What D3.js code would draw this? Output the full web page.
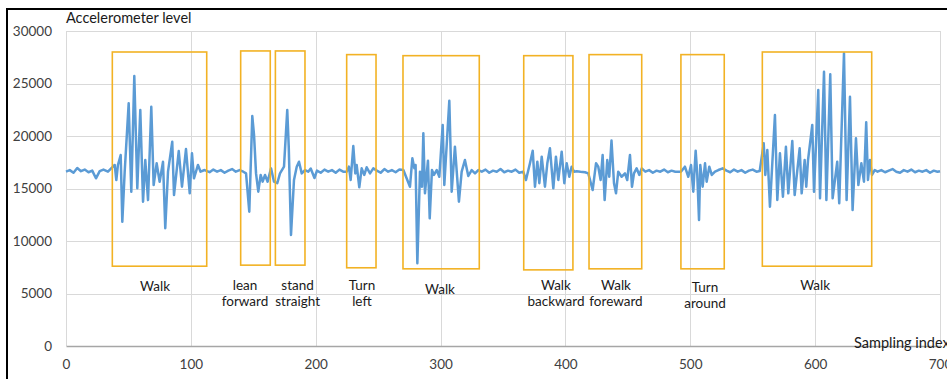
<!DOCTYPE html>
<html>
<head>
<meta charset="utf-8">
<script src="https://cdn.jsdelivr.net/npm/d3@7"></script>
<style>
  html, body { margin: 0; padding: 0; background: #fff; overflow: hidden; }
  svg { display: block; }
  text { font-family: Lato, "Open Sans", sans-serif; }
</style>
</head>
<body>
<svg id="chart" width="947" height="379"></svg>
<script>
// sample index / accelerometer level (peaks and troughs)
const sampleIndex = [
  0, 3, 6, 9, 12, 15, 18, 21, 24, 27, 30, 33.6,
  39, 40.3, 41.6, 43.8, 45.1, 47, 50.2, 52.3, 54.7, 57.1, 59.5, 61.7, 63.5, 65.7, 68.3, 70.2,
  72.6, 75, 77.7, 79.5, 81.7, 85.1, 86.5, 90.3, 92.9, 96.1, 99.1, 100.9, 102.5, 105.7, 107.8, 111,
  115, 118, 121, 124, 127, 130, 133, 136, 139, 142,
  144.2, 146.8, 149.2, 150.6, 152.2, 154, 155.9, 157.5, 159.4, 161.5, 164.2, 166.6, 169.2, 171.4,
  174.6, 177.2, 178.4, 180.2, 182.6, 184.8, 186.6, 188.8, 191.4,
  194, 196, 199, 201, 204, 207, 210, 213, 216, 219, 222,
  224.8, 226.6, 228, 230.1, 231.7, 232.8, 234.9, 236.8, 238.9, 240.8, 243.5, 246.1,
  249, 252, 255, 258, 261, 264, 267,
  270.2, 275.5, 277.4, 279, 280, 281.4, 283.5, 285.1, 286.2, 287.5, 289.9, 291.3, 293.1, 294.7,
  296.9, 299, 301.7, 303, 307, 308.9, 311.5, 314.7, 316.9, 319.5, 322.2, 324.9, 327.6, 330.2,
  333, 336, 339, 342, 345, 348, 351, 354, 357, 360, 363,
  366.2, 368.4, 371.6, 373.8, 375.6, 377.5, 379.1, 381, 383.6, 385.5, 387.6, 390.3, 392.4, 394.3,
  397, 399.1, 401, 403.1, 405, 406.9, 409, 412, 415.7,
  418.3, 421.8, 424.5, 426.3, 428.2, 429.8, 431.4, 433.5, 435.1, 436.9, 438.9, 440.5, 442.3, 445,
  447.7, 449.5, 451.7, 453.3, 454.9, 457, 459.2, 461.1,
  464, 467, 470, 473, 476, 479, 482, 485, 488,
  492.5, 495.7, 498.4, 500.6, 502.4, 504.3, 505.6, 507, 508, 509.9, 511.8, 513.1, 515.2, 517.2,
  519.8, 522.5, 526,
  529, 532, 535, 538, 541, 544, 547, 550, 553,
  555.6, 558.8, 560.1, 561.7, 563.8, 565.4, 567.8, 569.7, 571.8, 574.2, 576.6, 578.5, 581.7, 583.6,
  587.6, 589.2, 591.6, 592.9, 594.3, 597.7, 599.1, 602.5, 603.9, 607.1, 609, 612.1, 614, 617.7,
  619.3, 623.1, 625.2, 627.9, 630, 632.7, 634.6, 637, 639.1, 640.9, 642.3, 643.9, 645.5, 647.7,
  650, 653, 656, 659, 662, 665, 668, 671, 674, 677, 680, 683, 686, 689, 692, 695, 698, 700
];
const accelLevel = [
  16600, 16750, 16500, 16950, 16650, 16800, 16550, 16700, 15970, 16650, 16800, 16600,
  17240, 15810, 17240, 18190, 11840, 16600, 23110, 14700, 25710, 15020, 22480, 13740, 17710, 13900, 22790, 15330,
  17400, 15650, 17550, 11210, 16600, 19460, 14380, 18570, 15170, 18760, 14540, 18350, 15970, 17240, 16600, 16760,
  16550, 16800, 16600, 16750, 16500, 16700, 16850, 16600, 16750, 16600,
  16440, 12790, 21900, 20100, 16440, 14700, 16290, 15650, 16290, 15650, 16920, 15650, 15500, 16440,
  17080, 22480, 18980, 10570, 15810, 17080, 17550, 16440, 16760,
  16600, 16900, 16000, 16700, 16500, 16800, 16600, 16750, 16500, 16800, 16600,
  16600, 17080, 15810, 19050, 16440, 17240, 15110, 16920, 16290, 17020, 16440, 16920,
  16700, 16500, 16850, 16600, 16750, 16550, 16800,
  16760, 15170, 17880, 16920, 17240, 7880, 16600, 15170, 20260, 14540, 17650, 12160, 16760, 16290,
  16760, 16120, 21050, 15330, 23360, 14700, 18980, 13740, 16600, 17710, 16190, 16760, 16440, 16760,
  16600, 16800, 16500, 16700, 16600, 16850, 16550, 16700, 16600, 16800, 16500,
  16600, 15810, 17400, 18600, 15170, 17550, 15500, 18030, 15170, 17400, 18830, 15020, 18030, 15810,
  18510, 15500, 17400, 16120, 17080, 16600, 16650, 16600, 16550,
  16440, 14860, 17400, 17080, 15810, 18190, 13900, 17710, 16120, 19560, 15500, 14540, 16600, 16120,
  16440, 15810, 18190, 15170, 16440, 16920, 16290, 16920,
  16600, 16750, 16500, 16700, 16600, 16800, 16550, 16700, 16600,
  16600, 17080, 16120, 17240, 14700, 18600, 16290, 12000, 17240, 15170, 17400, 15650, 17080, 16290,
  16600, 16760, 16920,
  16700, 16550, 16800, 16600, 16750, 16500, 16700, 16800, 16600,
  16670, 19300, 16290, 18670, 13270, 16760, 22000, 13900, 18350, 14220, 18980, 14540, 19520, 14380,
  18830, 14540, 17710, 15170, 17710, 21050, 14700, 24380, 14070, 26120, 13900, 25870, 14070, 17550,
  13590, 27880, 13900, 23740, 12950, 19780, 15330, 17400, 15650, 21300, 15810, 17710, 16290, 16760,
  16600, 16750, 16550, 16700, 16850, 16600, 16500, 16750, 16600, 16800, 16550, 16700, 16600, 16750, 16500, 16700, 16600, 16650
];

// activity boxes (sample index / level) and their labels
const boxStart  = [37.1, 139.9, 167.7, 224.8, 269.9, 366.6, 418.9, 492.5, 557.7];
const boxEnd    = [112.7, 163.6, 191.4, 248.3, 331.0, 406.0, 461.1, 527.2, 645.3];
const boxTop    = [28000, 28100, 28100, 27750, 27650, 27650, 27750, 27750, 28000];
const boxBottom = [7600, 7700, 7700, 7450, 7350, 7250, 7350, 7350, 7600];
const activityLabels = [
  ["Walk"], ["lean", "forward"], ["stand", "straight"], ["Turn", "left"], ["Walk"],
  ["Walk", "backward"], ["Walk", "foreward"], ["Turn", "around"], ["Walk"]
];
const labelCenter = [71.3, 143.4, 185.5, 237, 299.5, 392.4, 440.5, 511.8, 600];
const labelLevel  = [5700, 5800, 5800, 5800, 5420, 5800, 5800, 5620, 5800];

const xTicks = [0, 100, 200, 300, 400, 500, 600, 700];
const yTicks = [0, 5000, 10000, 15000, 20000, 25000, 30000];

const svg = d3.select("#chart");
const x = d3.scaleLinear().domain([0, 700]).range([66, 940]);
const y = d3.scaleLinear().domain([0, 30000]).range([346, 31]);

// outer frame (only left and top edges fall inside the picture)
svg.append("rect")
  .attr("x", 7).attr("y", 9).attr("width", 960).attr("height", 400)
  .attr("fill", "none").attr("stroke", "#000").attr("stroke-width", 2);

// grid
svg.append("g").selectAll("line").data(yTicks.filter(d => d > 0)).join("line")
  .attr("x1", x(0)).attr("x2", x(700))
  .attr("y1", d => Math.round(y(d)) + 0.5).attr("y2", d => Math.round(y(d)) + 0.5)
  .attr("stroke", "#d9d9d9").attr("stroke-width", 1);
svg.append("g").selectAll("line").data(xTicks).join("line")
  .attr("x1", d => Math.round(x(d)) + 0.5).attr("x2", d => Math.round(x(d)) + 0.5)
  .attr("y1", y(30000)).attr("y2", y(0))
  .attr("stroke", "#d9d9d9").attr("stroke-width", 1);

// axes (labels only, Excel style)
const yAxis = svg.append("g")
  .attr("transform", "translate(52,0)")
  .call(d3.axisLeft(y).tickValues(yTicks).tickSize(0).tickPadding(0).tickFormat(d3.format("d")));
yAxis.select(".domain").remove();
yAxis.selectAll("text").attr("font-size", 13.5).attr("fill", "#404040")
  .attr("font-family", "Lato, 'Open Sans', sans-serif");

const xAxis = svg.append("g")
  .attr("transform", `translate(0,${y(0)})`)
  .call(d3.axisBottom(x).tickValues(xTicks).tickSize(0).tickPadding(13).tickFormat(d3.format("d")));
xAxis.select(".domain").attr("stroke", "#a6a6a6").attr("stroke-width", 1.3);
xAxis.selectAll("text").attr("font-size", 13.5).attr("fill", "#404040")
  .attr("font-family", "Lato, 'Open Sans', sans-serif");

// signal
const points = sampleIndex.map((s, i) => [s, accelLevel[i]]);
svg.append("path")
  .datum(points)
  .attr("fill", "none")
  .attr("stroke", "#5b9bd5")
  .attr("stroke-width", 2.5)
  .attr("stroke-linejoin", "round")
  .attr("d", d3.line().x(d => x(d[0])).y(d => y(d[1])));

// activity boxes
svg.append("g").selectAll("rect").data(boxStart).join("rect")
  .attr("x", (d, i) => x(d))
  .attr("y", (d, i) => y(boxTop[i]))
  .attr("width", (d, i) => x(boxEnd[i]) - x(d))
  .attr("height", (d, i) => y(boxBottom[i]) - y(boxTop[i]))
  .attr("fill", "none")
  .attr("stroke", "#f2b224")
  .attr("stroke-width", 1.6);

// activity labels
svg.append("g").selectAll("text").data(activityLabels).join("text")
  .attr("x", (d, i) => x(labelCenter[i]))
  .attr("y", (d, i) => y(labelLevel[i]))
  .attr("text-anchor", "middle")
  .attr("font-size", 13.5)
  .attr("fill", "#1a1a1a")
  .selectAll("tspan").data((d, i) => d.map(t => ({ t, i }))).join("tspan")
  .attr("x", d => x(labelCenter[d.i]))
  .attr("dy", (d, j) => j === 0 ? "0.35em" : "16.5")
  .text(d => d.t);

// axis titles
svg.append("text")
  .attr("x", 66).attr("y", 23)
  .attr("font-size", 14.5).attr("fill", "#1a1a1a")
  .text("Accelerometer level");
svg.append("text")
  .attr("x", 854).attr("y", 348)
  .attr("font-size", 14.5).attr("fill", "#1a1a1a")
  .text("Sampling index");
</script>
</body>
</html>
